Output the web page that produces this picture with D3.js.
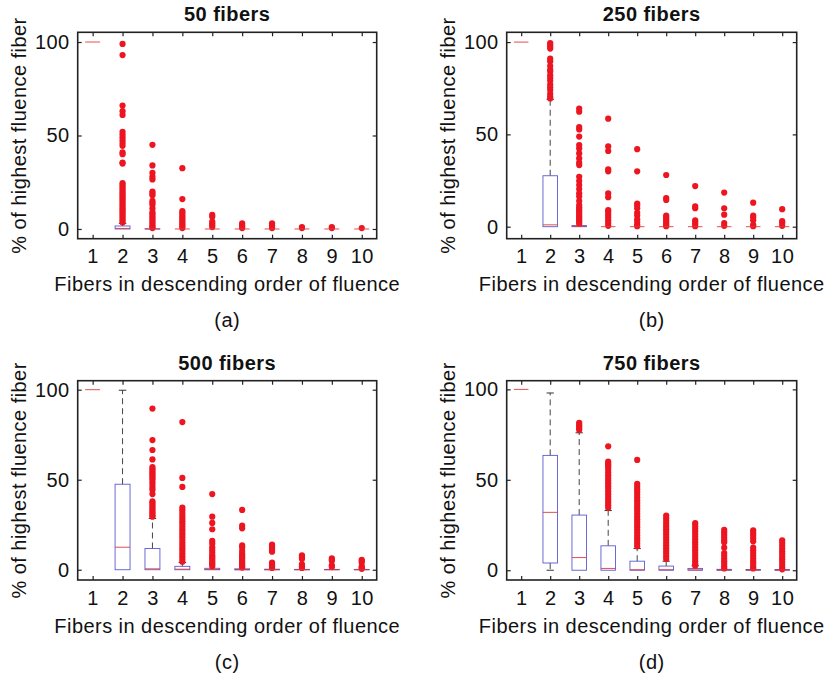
<!DOCTYPE html>
<html>
<head>
<meta charset="utf-8">
<script src="https://cdn.jsdelivr.net/npm/d3@7"></script>
<style>
  html, body { margin: 0; padding: 0; background: #fff; }
  svg { display: block; }
  text { font-family: "Liberation Sans", Arial, Helvetica, sans-serif; fill: #111; }
</style>
</head>
<body>
<svg id="chart" width="830" height="673"></svg>
<script>
// ---------- DATA ----------
const categories = [1, 2, 3, 4, 5, 6, 7, 8, 9, 10];
const yTickValues = [0, 50, 100];
const titles = ["50 fibers", "250 fibers", "500 fibers", "750 fibers"];
const subLabels = ["(a)", "(b)", "(c)", "(d)"];
const xLabel = "Fibers in descending order of fluence";
const yLabel = "% of highest fluence fiber";

// 50 fibers
const q1_50  = [100, 0, 0, 0, 0, 0, 0, 0, 0, 0];
const med_50 = [100, 0.3, 0, 0, 0, 0, 0, 0, 0, 0];
const q3_50  = [100, 1.6, 0.1, 0, 0, 0, 0, 0, 0, 0];
const lo_50  = [100, 0, 0, 0, 0, 0, 0, 0, 0, 0];
const hi_50  = [100, 3, 0.2, 0, 0, 0, 0, 0, 0, 0];
const out_50 = [
  [],
  [99, 93, 66, 63, 61, 52, 50.5, 49, 47.5, 46, 44.5, 41, 40, 35.5, 35, 24.5, 23.5, 22.5, 21.5, 20.5, 19.5, 18.5, 17.5, 16.5, 15.5, 14.5, 13.5, 12.5, 11.5, 10.5, 9.5, 8.5, 7.5, 6.5, 5.5, 4.5, 3.5],
  [45, 34, 30, 28, 26.5, 20, 19, 18, 15, 14, 13, 11, 9, 8, 7, 6, 5, 4, 3, 2, 1, 0.5],
  [32.5, 16, 9.5, 8.5, 7.5, 6.5, 5.5, 4.5, 3.5, 2.5, 1.5, 0.5],
  [7.5, 6.5, 4, 3, 2, 1],
  [3, 2, 1, 0.5],
  [3, 2, 1, 0.5],
  [1, 0.5],
  [1, 0.5],
  [0.5]
];

// 250 fibers
const q1_250  = [100, 0, 0, 0, 0, 0, 0, 0, 0, 0];
const med_250 = [100, 1, 0.2, 0, 0, 0, 0, 0, 0, 0];
const q3_250  = [100, 27.6, 0.6, 0, 0, 0, 0, 0, 0, 0];
const lo_250  = [100, 0, 0, 0, 0, 0, 0, 0, 0, 0];
const hi_250  = [100, 69, 0.8, 0, 0, 0, 0, 0, 0, 0];
const out_250 = [
  [],
  [99.5, 98.5, 97.5, 96.5, 91, 89.5, 87, 85, 84, 82, 80.5, 79, 77, 75.5, 74, 72, 70.5, 69.5],
  [64, 62.3, 54, 52.7, 48.8, 44.2, 42.4, 39.7, 37, 34.7, 33.4, 27, 24.7, 22.6, 20.4, 18, 16.3, 13.9, 11.7, 10.5, 9.5, 8.5, 7.5, 6.5, 5.5, 4.5, 3.5, 2.5, 1.5],
  [58.5, 43.5, 41, 31, 30, 18, 16, 9, 8, 6.5, 5, 3.5, 2, 0.5],
  [42, 30, 12.5, 11.5, 10, 7.5, 6, 4, 2.5, 1, 0.3],
  [28, 15.5, 14.5, 6, 5, 4, 3, 2, 1, 0.3],
  [22, 11, 10, 3.5, 2.5, 1.5, 0.3],
  [18.5, 10, 6.5, 2, 0.5],
  [13, 6, 5, 3.5, 1, 0.3],
  [9.5, 3, 2, 0.5]
];

// 500 fibers
const q1_500  = [100, 0, 0, 0, 0, 0, 0, 0, 0, 0];
const med_500 = [100, 12.5, 0.5, 0.3, 0.1, 0, 0, 0, 0, 0];
const q3_500  = [100, 47.5, 11.8, 1.9, 0.8, 0.5, 0.3, 0.2, 0.2, 0.2];
const lo_500  = [100, 0, 0, 0, 0, 0, 0, 0, 0, 0];
const hi_500  = [100, 99.7, 28.5, 4, 1.5, 1, 0.5, 0.3, 0.3, 0.3];
const out_500 = [
  [],
  [],
  [89.5, 72, 66.5, 61.3, 57, 56, 55, 54, 53, 52, 51, 50, 48.5, 47, 45.5, 44.3, 42, 38, 37, 36, 35, 34, 33, 32, 31, 30, 29.5],
  [82, 51, 46, 34.5, 33, 31.5, 30, 28.5, 27, 25.5, 24, 22.5, 21, 19.5, 18, 16.5, 15, 13.5, 12, 10.5, 9, 7.5, 6, 4.5],
  [42, 29.5, 26, 22.5, 16, 14.5, 12.5, 11, 9.5, 8, 7, 6, 5, 4, 3, 2],
  [33.2, 24.5, 23, 13.5, 12.5, 10.5, 9, 8, 7, 6, 5, 4, 3, 2, 1.2],
  [14, 13, 12, 11, 10, 4, 3, 2, 1],
  [8, 7, 6, 3, 2, 1],
  [6.3, 5.5, 5, 2.5, 1.5],
  [5.5, 4.8, 4, 2, 1, 0.5]
];

// 750 fibers
const q1_750  = [100, 4, 0, 0, 0, 0, 0, 0, 0, 0];
const med_750 = [100, 32, 7, 1, 0.3, 0.3, 0.2, 0.1, 0.1, 0.1];
const q3_750  = [100, 63.5, 30.5, 13.5, 5, 2.3, 1, 0.5, 0.4, 0.4];
const lo_750  = [100, 0, 0, 0, 0, 0, 0, 0, 0, 0];
const hi_750  = [100, 98, 76, 33, 12, 5, 2.5, 1, 1, 1];
const out_750 = [
  [],
  [],
  [81.5, 80.5, 79.5, 78.5, 77.5],
  [68.5, 60, 59, 58, 57, 55.5, 54, 52.5, 51, 49.5, 48, 46.5, 45, 43.5, 42, 40.5, 39, 37.5, 36, 34.5],
  [61, 47.7, 46.2, 44.7, 43.2, 41.7, 40.2, 38.7, 37.2, 35.7, 34.2, 32.7, 31.2, 29.7, 28.2, 26.7, 25.2, 23.7, 22.2, 20.7, 19.2, 17.7, 16.2, 14.7, 13.2],
  [30.2, 28.7, 27.2, 25.7, 24.2, 22.7, 21.2, 19.7, 18.2, 16.7, 15.2, 13.7, 12.2, 10.7, 9.2, 7.7, 6.2],
  [26, 24.5, 23, 21.5, 20, 18.5, 17, 15.5, 14, 12.5, 11, 9.5, 8, 6.5, 5, 3.5, 2.5],
  [22.3, 21, 19.5, 18, 16.5, 15.5, 12.5, 9.5, 8, 6.5, 5, 3.5, 2, 1],
  [22, 20.5, 19, 17.5, 16, 12.5, 11, 9.5, 8, 6.5, 5, 3.5, 2, 1],
  [16.5, 15, 13.5, 12, 10.5, 9, 7.5, 6, 4.5, 3, 1.5, 0.5]
];

// ---------- BUILD ----------
function stats(q1, med, q3, lo, hi, out) {
  return categories.map((c, i) => ({ cat: c, q1: q1[i], med: med[i], q3: q3[i], lo: lo[i], hi: hi[i], out: out[i] }));
}
const panelData = [
  stats(q1_50, med_50, q3_50, lo_50, hi_50, out_50),
  stats(q1_250, med_250, q3_250, lo_250, hi_250, out_250),
  stats(q1_500, med_500, q3_500, lo_500, hi_500, out_500),
  stats(q1_750, med_750, q3_750, lo_750, hi_750, out_750)
];

const layout = [
  { left: 77.7,  right: 376.7, top: 32.3,  bottom: 238.7, ydom: [-5.2, 105.2] },
  { left: 506.7, right: 796.7, top: 32.3,  bottom: 238.7, ydom: [-6.5, 105.3] },
  { left: 77.7,  right: 376.7, top: 380.7, bottom: 580,   ydom: [-5.7, 105] },
  { left: 506.7, right: 796.7, top: 380.7, bottom: 580,   ydom: [-5.4, 104.8] }
];

const svg = d3.select("#chart");
const FS = 20;
const LS = "0.45px";
const boxColor = "#5a5ad2";
const medColor = "#e03a3a";
const dotColor = "#ec1520";
const axisColor = "#222";

panelData.forEach((data, p) => {
  const L = layout[p];
  const x = d3.scaleLinear().domain([0.5, 10.5]).range([L.left, L.right]);
  const y = d3.scaleLinear().domain(L.ydom).range([L.bottom, L.top]);
  const g = svg.append("g");
  const bw = x(1.25) - x(1);  // half box width (0.25 units)
  const cw = x(1.125) - x(1); // half cap width

  const plot = g.append("g");
  const cat = plot.selectAll("g.cat").data(data).enter().append("g").attr("class", "cat");

  // whiskers (dashed)
  cat.filter(d => d.hi > d.q3).append("line")
    .attr("x1", d => x(d.cat)).attr("x2", d => x(d.cat))
    .attr("y1", d => y(d.q3)).attr("y2", d => y(d.hi))
    .attr("stroke", "#444").attr("stroke-width", 1).attr("stroke-dasharray", "6,4");
  cat.filter(d => d.lo < d.q1).append("line")
    .attr("x1", d => x(d.cat)).attr("x2", d => x(d.cat))
    .attr("y1", d => y(d.q1)).attr("y2", d => y(d.lo))
    .attr("stroke", "#444").attr("stroke-width", 1).attr("stroke-dasharray", "6,4");
  // caps
  cat.filter(d => d.hi > d.q3 + 1).append("line")
    .attr("x1", d => x(d.cat) - cw).attr("x2", d => x(d.cat) + cw)
    .attr("y1", d => y(d.hi)).attr("y2", d => y(d.hi))
    .attr("stroke", "#333").attr("stroke-width", 1);
  cat.filter(d => d.lo < d.q1).append("line")
    .attr("x1", d => x(d.cat) - cw).attr("x2", d => x(d.cat) + cw)
    .attr("y1", d => y(d.lo)).attr("y2", d => y(d.lo))
    .attr("stroke", "#333").attr("stroke-width", 1);

  // boxes
  cat.append("rect")
    .attr("x", d => x(d.cat) - bw)
    .attr("width", 2 * bw)
    .attr("y", d => y(d.q3))
    .attr("height", d => Math.max(0, y(d.q1) - y(d.q3)))
    .attr("fill", "none").attr("stroke", boxColor).attr("stroke-width", 0.9);

  // outliers
  cat.selectAll("circle").data(d => d.out.map(v => ({ cat: d.cat, v }))).enter()
    .append("circle")
    .attr("cx", d => x(d.cat)).attr("cy", d => y(d.v)).attr("r", 3.1)
    .attr("fill", dotColor);

  // medians
  cat.append("line")
    .attr("x1", d => x(d.cat) - bw).attr("x2", d => x(d.cat) + bw)
    .attr("y1", d => y(d.med)).attr("y2", d => y(d.med))
    .attr("stroke", medColor).attr("stroke-width", 0.9);

  // axes (ticks inward on all sides)
  const tl = 4;
  const axB = g.append("g").attr("transform", `translate(0,${L.bottom})`)
    .call(d3.axisBottom(x).tickValues(categories).tickSize(-tl).tickPadding(10).tickFormat(d3.format("d")));
  const axT = g.append("g").attr("transform", `translate(0,${L.top})`)
    .call(d3.axisTop(x).tickValues(categories).tickSize(-tl).tickFormat(""));
  const axL = g.append("g").attr("transform", `translate(${L.left},0)`)
    .call(d3.axisLeft(y).tickValues(yTickValues).tickSize(-tl).tickPadding(8).tickFormat(d3.format("d")));
  const axR = g.append("g").attr("transform", `translate(${L.right},0)`)
    .call(d3.axisRight(y).tickValues(yTickValues).tickSize(-tl).tickFormat(""));
  [axB, axT, axL, axR].forEach(a => {
    a.select(".domain").remove();
    a.selectAll(".tick line").attr("stroke", axisColor).attr("stroke-width", 1.2);
    a.selectAll("text").attr("font-size", FS).attr("fill", "#111")
      .attr("font-family", "Liberation Sans, Arial, sans-serif").style("letter-spacing", LS);
  });
  axB.selectAll("text").attr("dy", null).attr("y", 24.6).attr("dominant-baseline", "auto");

  // frame
  g.append("rect")
    .attr("x", L.left).attr("y", L.top)
    .attr("width", L.right - L.left).attr("height", L.bottom - L.top)
    .attr("fill", "none").attr("stroke", axisColor).attr("stroke-width", 1.6);

  const cx = (L.left + L.right) / 2;
  g.append("text").attr("x", cx).attr("y", L.top - 11)
    .attr("text-anchor", "middle").attr("font-size", FS).attr("font-weight", "bold")
    .style("letter-spacing", LS).text(titles[p]);
  g.append("text").attr("x", cx).attr("y", L.bottom + 52.5)
    .attr("text-anchor", "middle").attr("font-size", FS)
    .style("letter-spacing", LS).text(xLabel);
  g.append("text").attr("x", cx).attr("y", L.bottom + 88.5)
    .attr("text-anchor", "middle").attr("font-size", FS)
    .style("letter-spacing", LS).text(subLabels[p]);
  g.append("text")
    .attr("transform", `translate(${L.left - 52},${(L.top + L.bottom) / 2}) rotate(-90)`)
    .attr("text-anchor", "middle").attr("font-size", FS)
    .style("letter-spacing", LS).text(yLabel);
});
</script>
</body>
</html>
